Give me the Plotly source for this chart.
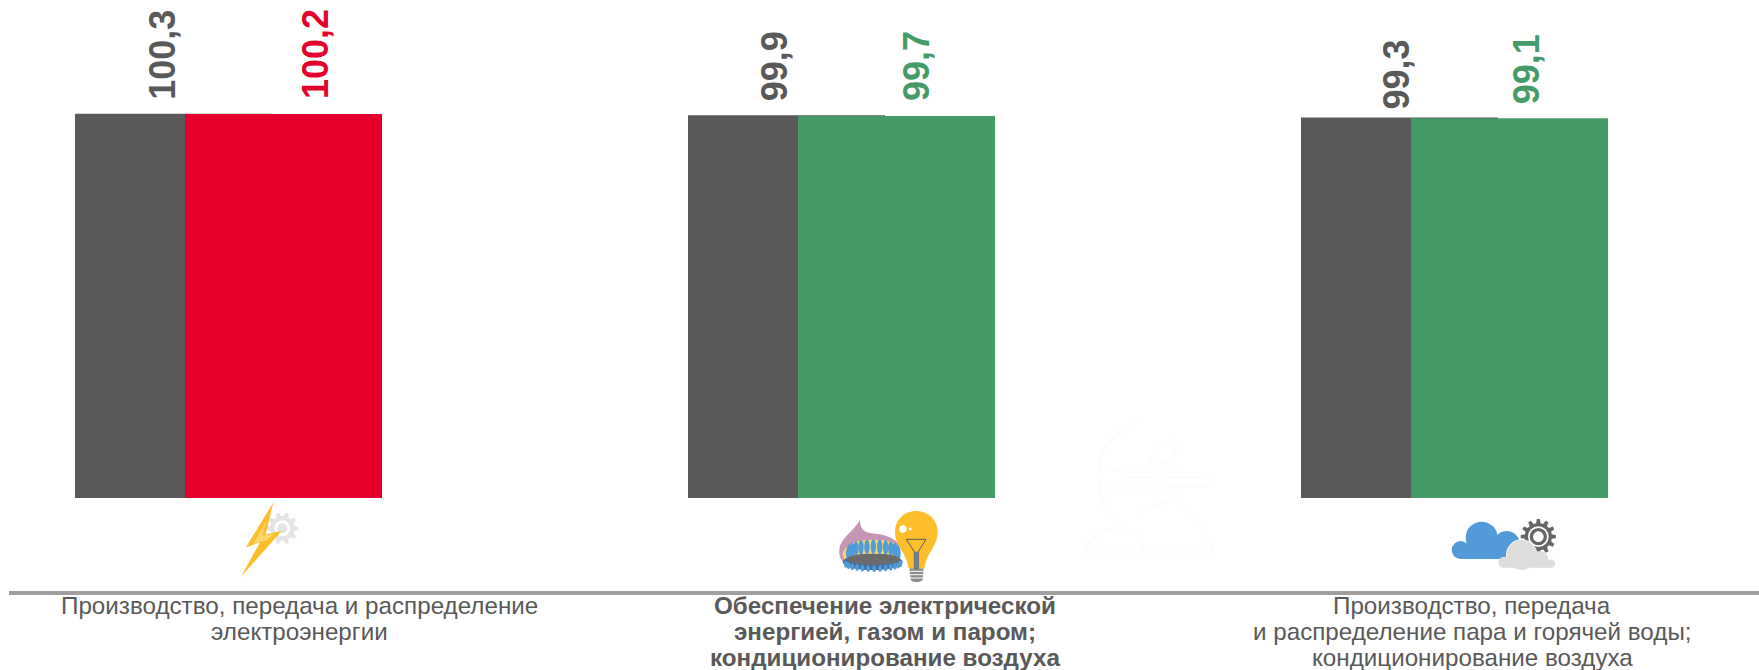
import math
import re
import plotly.graph_objects as go

W, H = 1759, 670

# ---- data ----
group_index = [0, 1, 2]
previous_values = [100.3, 99.9, 99.3]
current_values = [100.2, 99.7, 99.1]
previous_labels = ["100,3", "99,9", "99,3"]
current_labels = ["100,2", "99,7", "99,1"]
current_colors = ["#E4002A", "#459B67", "#459B67"]
category_lines = [
    ["Производство, передача и распределение", "электроэнергии"],
    ["<b>Обеспечение электрической</b>", "<b>энергией, газом и паром;</b>", "<b>кондиционирование воздуха</b>"],
    ["Производство, передача", "и распределение пара и горячей воды;", "кондиционирование воздуха"],
]
category_positions = [0.3670, 1.3214, 2.2790]

# ---- style ----
GREY = "#595959"
LINE = "#A09E9E"
FONT = "Liberation Sans"
GROUP_PX = 613.0
BAR_W = 197 / GROUP_PX
CUR_OFF = 110 / GROUP_PX
prev_label_dx = [88 / GROUP_PX, 86 / GROUP_PX, 96 / GROUP_PX]
cur_label_dx = [240 / GROUP_PX, 228 / GROUP_PX, 225 / GROUP_PX]
prev_label_lift = [14, 14, 8]
cur_label_lift = [15, 15, 14]
LINE_Y = [605, 631.5, 657.5]

fig = go.Figure()
fig.add_bar(x=group_index, y=previous_values, width=BAR_W, offset=0,
            marker=dict(color=GREY, line_width=0), showlegend=False)
fig.add_bar(x=group_index, y=current_values, width=BAR_W, offset=CUR_OFF,
            marker=dict(color=current_colors, line_width=0), showlegend=False)

ann = []
for xs, vals, txt, dx, lift, cols in [
    (group_index, previous_values, previous_labels, prev_label_dx, prev_label_lift, [GREY] * 3),
    (group_index, current_values, current_labels, cur_label_dx, cur_label_lift, current_colors),
]:
    for i in range(3):
        ann.append(dict(x=xs[i] + dx[i], y=vals[i], xref="x", yref="y", text=f"<b>{txt[i]}</b>",
                        textangle=-90, showarrow=False, xanchor="center", yanchor="bottom",
                        yshift=lift[i], borderpad=0, borderwidth=0,
                        font=dict(family=FONT, size=36, color=cols[i])))

for pos, lines in zip(category_positions, category_lines):
    for ly, line in zip(LINE_Y, lines):
        ann.append(dict(x=pos, y=1 - ly / H, xref="x", yref="paper", text=line, showarrow=False,
                        xanchor="center", yanchor="middle", borderpad=0, borderwidth=0,
                        font=dict(family=FONT, size=24.2, color=GREY)))

# ---- decorative icons, in pixel space ----
def fx(x): return x / W
def fy(y): return 1 - y / H

shapes = []

def path(ox, oy, s, fill=None, line=None, lw=0, k=3.0):
    def conv(m):
        n = float(m.group(1))
        conv.i += 1
        return f"{fx(ox + n / k):.5f}" if conv.i % 2 == 1 else f"{fy(oy + n / k):.5f}"
    conv.i = 0
    d = re.sub(r"(-?\d+(?:\.\d+)?)", conv, s)
    shapes.append(dict(type="path", xref="paper", yref="paper", path=d, layer="above",
                       fillcolor=fill or "rgba(0,0,0,0)",
                       line=dict(color=line or "rgba(0,0,0,0)", width=lw)))

def ell(ox, oy, cx, cy, rx, ry=None, fill="#000", k=3.0):
    ry = rx if ry is None else ry
    shapes.append(dict(type="circle", xref="paper", yref="paper", layer="above",
                       x0=fx(ox + (cx - rx) / k), x1=fx(ox + (cx + rx) / k),
                       y0=fy(oy + (cy + ry) / k), y1=fy(oy + (cy - ry) / k),
                       fillcolor=fill, line=dict(width=0)))

def gear(ox, oy, cx, cy, R, r, teeth, fill):
    pts = []
    for t in range(teeth):
        a = 2 * math.pi * t / teeth
        st = 2 * math.pi / teeth
        for da, rad in [(-0.30, r), (-0.17, R), (0.17, R), (0.30, r)]:
            b = a + da * st
            pts.append((cx + rad * math.cos(b), cy + rad * math.sin(b)))
    d = "M " + " L ".join(f"{x:.1f} {y:.1f}" for x, y in pts) + " Z"
    path(ox, oy, d, fill=fill)

# watermark
O = (1060, 420)
wm = "#FCFCFC"
path(*O, "M 230 5 C 170 30 125 80 118 135 C 112 190 115 240 175 320", line=wm, lw=2)
path(*O, "M 155 150 L 195 155 L 445 160 L 445 200 L 195 205 L 150 205", line=wm, lw=2)
path(*O, "M 200 170 L 285 170 M 310 170 L 430 170", line=wm, lw=2)
path(*O, "M 70 395 L 460 395 C 430 320 390 260 340 240 C 300 250 260 265 235 280", line=wm, lw=2)
path(*O, "M 70 390 L 120 335 L 190 320 L 245 355 L 250 395", line=wm, lw=2)
path(*O, "M 270 125 L 290 85 L 340 60 L 350 90 L 330 125 Z", line=wm, lw=2)

# bolt + gear
O = (225, 495)
gear(*O, 172, 100, 48, 37, 10, "#E4E4E4")
ell(*O, 172, 100, 24, fill="#FFFFFF")
ell(*O, 172, 100, 15, fill="#E4E4E4")
path(*O, "M 145 22 L 62 158 L 105 142 L 48 245 L 170 108 L 122 118 Z", fill="#FDBE2C")
path(*O, "M 125 75 L 85 148 L 125 135 L 150 115 L 112 122 Z", fill="#FCD56C")

# burner + bulb
O = (830, 500)
path(*O, "M 28 150 C 30 115 70 95 90 60 C 90 85 100 97 125 100 C 160 103 185 110 205 130 L 205 195 L 60 200 C 40 190 25 175 28 150 Z", fill="#C795B5")
path(*O, "M 38 158 C 55 122 100 116 140 120 C 170 120 190 125 205 135 L 205 192 L 70 200 C 50 192 38 175 38 158 Z", fill="#FBD76E")
for a in range(180, 361, 15):
    r = math.radians(a)
    cx = 130 + 74 * math.cos(r)
    cy = 160 + 20 * math.sin(r)
    ell(*O, cx, cy, 8, 22, fill="#4F9CD9")
ell(*O, 128, 186, 90, 24, fill="#3E6FA8")
for a in range(15, 170, 12):
    r = math.radians(a)
    ell(*O, 128 + 86 * math.cos(r), 186 + 20 * math.sin(r), 5.5, 10, fill="#4F9CD9")
ell(*O, 130, 178, 80, 17, fill="#6B6B6B")
path(*O, "M 238 205 L 281 205 L 278 240 C 270 248 250 248 242 240 Z", fill="#8C8C8C")
for yy in [214, 224, 234]:
    path(*O, f"M 238 {yy} L 281 {yy}", line="#FFFFFF", lw=1)
path(*O, "M 258 33 C 295 33 323 60 323 95 C 323 140 290 155 283 205 L 236 205 C 230 155 195 140 195 95 C 195 60 222 33 258 33 Z", fill="#FDBE2C")
ell(*O, 219, 87, 11, fill="#FFFFFF")
ell(*O, 241, 87, 4.5, fill="#FFFFFF")
path(*O, "M 229 118 L 288 118 L 265 155 L 265 205 L 253 205 L 253 155 Z", line="#5A5A5A", lw=1)
path(*O, "M 253 155 L 265 155 L 265 205 L 253 205 Z", fill="#6F7F9F")

# clouds + gear
O = (1440, 505)
ell(*O, 125, 98, 48, fill="#529BD8")
ell(*O, 62, 135, 27, fill="#529BD8")
ell(*O, 200, 118, 40, fill="#529BD8")
path(*O, "M 62 125 L 235 125 L 235 162 L 62 162 Z", fill="#529BD8")
gear(*O, 295, 95, 53, 41, 12, "#666666")
ell(*O, 295, 95, 31, fill="#FFFFFF")
ell(*O, 295, 95, 26, fill="#666666")
ell(*O, 295, 95, 16, fill="#FFFFFF")
ell(*O, 245, 150, 47, fill="#FFFFFF")
ell(*O, 245, 150, 45, fill="#DEDDDC")
ell(*O, 192, 172, 17, fill="#DEDDDC")
ell(*O, 300, 163, 25, fill="#DEDDDC")
ell(*O, 333, 176, 12, fill="#DEDDDC")
path(*O, "M 192 170 L 333 170 L 333 188 L 192 188 Z", fill="#DEDDDC")

# ---- layout ----
AXIS_LEFT = 9
BASE_Y = 498
AXIS_Y = 593
PX_PER_UNIT = 384.3 / 100.3

fig.update_layout(
    width=W, height=H, margin=dict(l=0, r=0, t=0, b=0, pad=0, autoexpand=False),
    paper_bgcolor="#FFFFFF", plot_bgcolor="rgba(0,0,0,0)",
    barmode="overlay", showlegend=False, hovermode=False,
    shapes=shapes, annotations=ann,
    xaxis=dict(domain=[AXIS_LEFT / W, 1],
               range=[(AXIS_LEFT - 75) / GROUP_PX, (W - 75) / GROUP_PX],
               anchor="free", position=1 - AXIS_Y / H,
               showgrid=False, zeroline=False, ticks="",
               showline=True, linecolor=LINE, linewidth=4,
               showticklabels=False),
    yaxis=dict(domain=[1 - BASE_Y / H, 1], range=[0, BASE_Y / PX_PER_UNIT], visible=False),
    font=dict(family=FONT, color=GREY),
)

fig.write_html("out.html", config=dict(displayModeBar=False),
               post_script="document.body.style.margin='0';")
